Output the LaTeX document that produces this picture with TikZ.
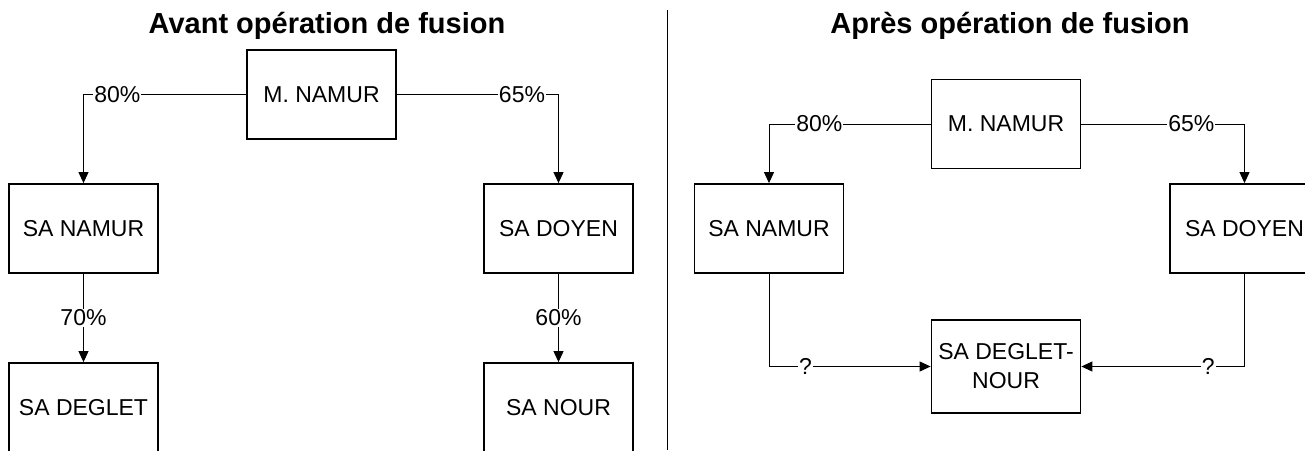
\documentclass[tikz,border=0pt]{standalone}
\usepackage{fontspec}
\setmainfont{Liberation Sans}
\usetikzlibrary{arrows.meta}
\usetikzlibrary{calc}

\begin{document}
\begin{tikzpicture}[x=1pt, y=-1pt,
        entite/.style = {draw, black, line width=1.8pt, minimum width=149pt, minimum height=89pt, inner sep=0pt, align=center, font=\fontsize{23}{29}\selectfont},
        titre/.style = {font=\fontsize{29}{34}\selectfont\bfseries},
        taux/.style = {fill=white, inner sep=1pt, font=\fontsize{23}{27}\selectfont},
        lien/.style = {black, line width=1pt},
        fleche/.style = {lien, -{Triangle[length=11pt,width=10pt]}}]
                \useasboundingbox (0,0) rectangle (1305,450);
                \node[titre] (titreAvant) at (327,26) {Avant opération de fusion};
                \node[titre] (titreApres) at (1010,26) {Après opération de fusion};
                \coordinate (sepHaut) at (667,10);
                \coordinate (sepBas) at (667,450);
                \draw[lien] (sepHaut) -- (sepBas);

                \node[entite] (mNamurA) at (321.5,94.5) {M. NAMUR};
                \node[entite] (saNamurA) at (83.5,228.5) {SA NAMUR};
                \node[entite] (saDoyenA) at (558.5,228.5) {SA DOYEN};
                \node[entite] (saDegletA) at (83.5,407.5) {SA DEGLET};
                \node[entite] (saNourA) at (558.5,407.5) {SA NOUR};
                \draw[fleche] (mNamurA.west) -| node[taux, pos=0.396] {80\%} (saNamurA.north);
                \draw[fleche] (mNamurA.east) -| node[taux, pos=0.387] {65\%} (saDoyenA.north);
                \draw[fleche] (saNamurA.south) -- node[taux] {70\%} (saDegletA.north);
                \draw[fleche] (saDoyenA.south) -- node[taux] {60\%} (saNourA.north);

                \node[entite] (mNamurB) at (1006,124) {M. NAMUR};
                \node[entite] (saNamurB) at (769,228.5) {SA NAMUR};
                \node[entite] (saDoyenB) at (1244.5,228.5) {SA DOYEN};
                \node[entite, minimum height=93pt] (saDegletNourB) at (1006,366.5) {SA DEGLET-\\NOUR};
                \draw[fleche] (mNamurB.west) -| node[taux, pos=0.344] {80\%} (saNamurB.north);
                \draw[fleche] (mNamurB.east) -| node[taux, pos=0.337] {65\%} (saDoyenB.north);
                \draw[fleche] (saNamurB.south) |- node[taux, pos=0.613] {?} (saDegletNourB.west);
                \draw[fleche] (saDoyenB.south) |- node[taux, pos=0.611] {?} (saDegletNourB.east);
\end{tikzpicture}
\end{document}
